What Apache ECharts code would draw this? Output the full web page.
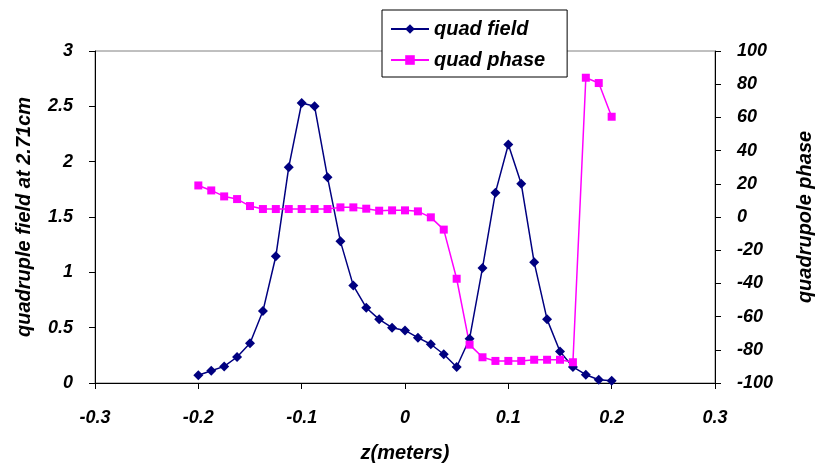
<!DOCTYPE html>
<html><head><meta charset="utf-8">
<script src="https://cdn.jsdelivr.net/npm/echarts@6/dist/echarts.min.js"></script>
<style>html,body{margin:0;padding:0;background:#fff}#c{width:821px;height:465px}</style>
</head><body><div id="c"></div>
<script>
const zValues = [-0.2,-0.1875,-0.175,-0.1625,-0.15,-0.1375,-0.125,-0.1125,-0.1,-0.0875,-0.075,-0.0625,-0.05,-0.0375,-0.025,-0.0125,0,0.0125,0.025,0.0375,0.05,0.0625,0.075,0.0875,0.1,0.1125,0.125,0.1375,0.15,0.1625,0.175,0.1875,0.2];
const quadField = [0.07,0.11,0.15,0.235,0.36,0.65,1.145,1.95,2.53,2.50,1.86,1.28,0.88,0.68,0.575,0.50,0.475,0.41,0.35,0.26,0.145,0.40,1.04,1.72,2.155,1.80,1.09,0.575,0.285,0.145,0.075,0.03,0.02];
const quadPhase = [19,16,12.4,10.8,6.6,4.8,4.8,4.8,4.8,4.8,4.8,5.8,5.8,5.0,3.8,4.0,4.0,3.4,-0.2,-7.6,-37.2,-76.9,-84.5,-86.7,-86.7,-86.7,-86,-86,-86,-87.5,83.9,80.7,60.4];
const seriesNames = ['quad field','quad phase'];
const xTitle = 'z(meters)', yLeftTitle = 'quadruple field at 2.71cm', yRightTitle = 'quadrupole phase';

const font = {fontFamily:'Liberation Sans, Arial, sans-serif', fontWeight:'bold', fontStyle:'italic', color:'#000'};
const chart = echarts.init(document.getElementById('c'), null, {renderer:'canvas'});
chart.setOption({
  animation:false,
  backgroundColor:'#fff',
  grid:{left:95, right:106, top:51, bottom:82, show:true, borderColor:'#808080', borderWidth:1, containLabel:false, outerBoundsMode:'none'},
  legend:{
    orient:'vertical', left:382, top:10,
    backgroundColor:'#fff', borderColor:'#000', borderWidth:1,
    padding:[9,22,7,8], itemGap:11, itemWidth:38, itemHeight:12,
    textStyle:Object.assign({fontSize:20}, font),
    data:seriesNames
  },
  xAxis:{
    type:'value', min:-0.3, max:0.3, interval:0.1,
    name:xTitle, nameLocation:'middle', nameGap:60,
    nameTextStyle:Object.assign({fontSize:20}, font),
    axisLine:{onZero:false, lineStyle:{color:'#000', width:1}},
    axisTick:{show:true, length:6, lineStyle:{color:'#000'}},
    splitLine:{show:false},
    axisLabel:Object.assign({fontSize:18, margin:26, formatter:v=>String(+v.toFixed(1))}, font)
  },
  yAxis:[{
    type:'value', min:0, max:3, interval:0.5, position:'left',
    name:yLeftTitle, nameLocation:'middle', nameGap:61, nameRotate:90,
    nameTextStyle:Object.assign({fontSize:20}, font),
    axisLine:{show:true, onZero:false, lineStyle:{color:'#000', width:1}},
    axisTick:{show:true, length:6, lineStyle:{color:'#000'}},
    splitLine:{show:false},
    axisLabel:Object.assign({fontSize:18, margin:22}, font)
  },{
    type:'value', min:-100, max:100, interval:20, position:'right',
    name:yRightTitle, nameLocation:'middle', nameGap:80, nameRotate:90,
    nameTextStyle:Object.assign({fontSize:20}, font),
    axisLine:{show:true, onZero:false, lineStyle:{color:'#000', width:1}},
    axisTick:{show:true, length:6, lineStyle:{color:'#000'}},
    splitLine:{show:false},
    axisLabel:Object.assign({fontSize:18, margin:22}, font)
  }],
  series:[{
    name:seriesNames[0], type:'line', yAxisIndex:0,
    data:zValues.map((z,i)=>[z, quadField[i]]),
    symbol:'diamond', symbolSize:10,
    lineStyle:{color:'#000080', width:1.5},
    itemStyle:{color:'#000080'}
  },{
    name:seriesNames[1], type:'line', yAxisIndex:1,
    data:zValues.map((z,i)=>[z, quadPhase[i]]),
    symbol:'rect', symbolSize:8,
    lineStyle:{color:'#FF00FF', width:1.5},
    itemStyle:{color:'#FF00FF'}
  }]
});
</script></body></html>
